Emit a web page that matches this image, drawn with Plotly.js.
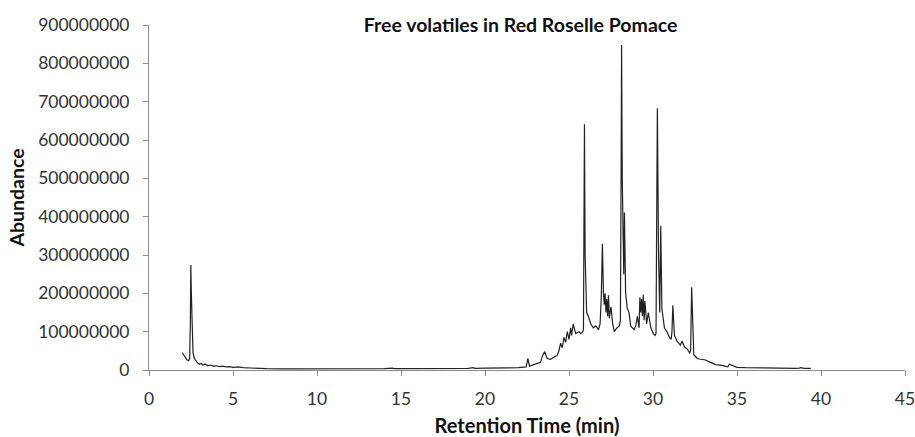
<!DOCTYPE html>
<html>
<head>
<meta charset="utf-8">
<script src="https://cdn.plot.ly/plotly-3.0.1.min.js"></script>
<style>html,body{margin:0;padding:0;background:#fff;}#chart{width:915px;height:437px;}</style>
</head>
<body>
<div id="chart"></div>
<script>
// Retention time (min)
const retentionTime = [
  1.98,2.05,2.15,2.25,2.35,2.42,2.46,2.49,2.52,2.56,2.62,2.70,2.80,2.90,3.00,3.10,3.20,3.35,3.50,3.65,3.80,4.00,4.20,4.40,4.60,4.80,5.00,5.30,5.60,6.00,6.50,7.00,8.00,9.00,10.0,11.0,12.0,13.0,14.0,14.5,14.6,15.0,16.0,17.0,18.0,19.0,19.3,19.4,20.0,20.5,21.0,21.5,22.0,
  22.45,22.55,22.65,22.9,23.1,23.3,23.45,23.55,23.7,23.9,24.1,24.3,24.4,24.5,24.6,24.7,24.8,24.9,25.0,25.1,25.15,25.25,25.4,25.6,25.7,25.82,25.86,25.89,25.92,25.96,26.05,
  26.15,26.3,26.45,26.6,26.75,26.85,26.92,26.96,26.99,27.05,27.1,27.15,27.2,27.25,27.3,27.35,27.4,27.5,27.6,27.7,27.85,28.0,28.06,28.10,28.13,28.17,28.21,28.26,28.3,28.37,
  28.47,28.57,28.67,28.77,28.87,28.97,29.07,29.17,29.22,29.27,29.32,29.37,29.42,29.47,29.52,29.62,29.72,29.87,30.02,30.12,30.18,30.22,30.26,30.33,30.40,30.46,30.53,30.68,30.83,30.98,
  31.08,31.13,31.18,31.28,31.43,31.53,31.63,31.73,31.88,32.03,32.18,32.24,32.3,32.43,32.63,32.83,33.13,33.43,33.73,34.1,34.35,34.45,34.55,35.0,35.5,36.0,36.5,37.0,37.5,38.0,38.5,38.7,38.8,39.0,39.4
];
// Abundance (millions of counts)
const abundanceMillions = [
  45,40,33,27,24,30,120,274,200,90,45,30,22,18,15,17,13,15,11,13,10,11,9,10,8,9,7,8,6,5,4,3.5,3,3,3,3,3,3.2,3.5,5,3.5,3.5,3.5,4,4,4.5,6,4.5,5,5,6,6,6,
  8,30,10,14,16,20,40,48,30,28,33,38,50,70,58,85,72,100,80,110,90,120,95,100,95,100,105,400,641,300,150,140,
  120,110,115,105,120,190,250,329,200,170,200,150,185,140,195,135,165,120,100,110,115,130,500,848,500,300,250,411,200,160,
  150,115,110,105,115,140,110,190,150,185,140,196,130,180,120,150,110,95,90,95,400,683,300,150,376,160,110,100,85,80,
  100,169,90,75,70,65,75,60,55,45,50,216,40,30,28,26,20,14,12,9,8,15,7,6,5.5,5,5,5,5,4.5,5,6,4.5,4.5,4.5
];
const chartTitle = "Free volatiles in Red Roselle Pomace";
const xTitle = "Retention Time (min)";
const yTitle = "Abundance";

const abundance = abundanceMillions.map(v => v * 1e6);

const trace = {
  x: retentionTime,
  y: abundance,
  type: "scatter",
  mode: "lines",
  line: {color: "#222222", width: 1.2},
  hoverinfo: "skip"
};

const fontFam = "Lato, 'Open Sans', sans-serif";
const layout = {
  width: 915,
  height: 437,
  margin: {l: 149, r: 10, t: 25, b: 67},
  paper_bgcolor: "#ffffff",
  plot_bgcolor: "#ffffff",
  showlegend: false,
  title: {
    text: "<b>" + chartTitle + "</b>",
    font: {family: fontFam, size: 19.5, color: "#111"},
    x: 0.569, xref: "container", xanchor: "center",
    y: 0.943, yref: "container", yanchor: "middle"
  },
  xaxis: {
    range: [0, 45],
    tickmode: "linear", tick0: 0, dtick: 5,
    showgrid: false, zeroline: false,
    showline: true, linecolor: "#8c8c8c", linewidth: 1,
    ticks: "outside", ticklen: 5, tickcolor: "#8c8c8c",
    ticklabelstandoff: 8,
    ticklabeloverflow: "allow",
    tickfont: {family: fontFam, size: 17.5, color: "#333"},
    title: {text: "<b>" + xTitle + "</b>", font: {family: fontFam, size: 20, color: "#111"}, standoff: 12}
  },
  yaxis: {
    range: [0, 900000000],
    tickmode: "linear", tick0: 0, dtick: 100000000,
    tickformat: "d",
    showgrid: false, zeroline: false,
    showline: true, linecolor: "#8c8c8c", linewidth: 1,
    ticks: "outside", ticklen: 5, tickcolor: "#8c8c8c",
    ticklabelstandoff: 10,
    tickfont: {family: fontFam, size: 17.5, color: "#333"},
    title: {text: "<b>" + yTitle + "</b>", font: {family: fontFam, size: 19.5, color: "#111"}, standoff: 8}
  }
};

Plotly.newPlot("chart", [trace], layout, {staticPlot: true, displayModeBar: false});
</script>
</body>
</html>
